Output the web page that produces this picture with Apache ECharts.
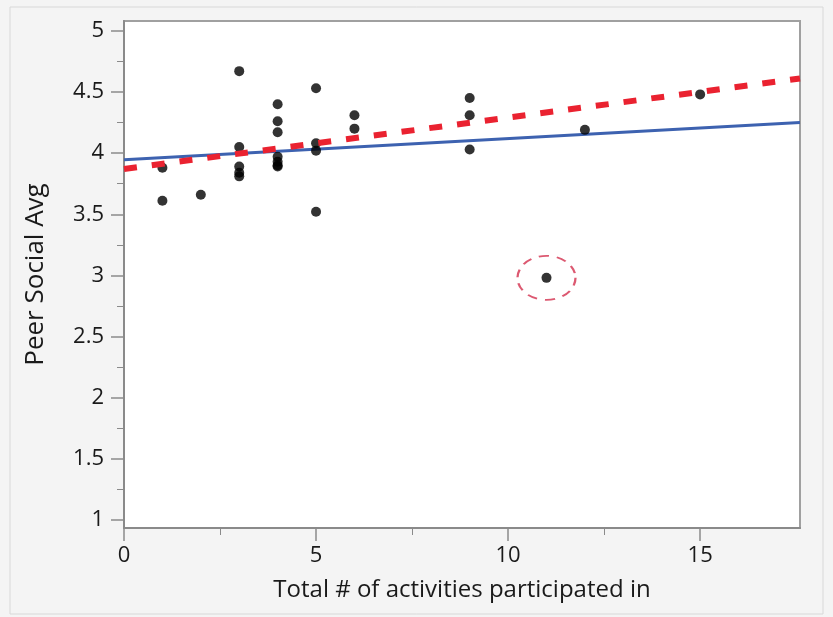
<!DOCTYPE html>
<html>
<head>
<meta charset="utf-8">
<script src="https://cdn.jsdelivr.net/npm/echarts@6/dist/echarts.min.js"></script>
<style>
html,body{margin:0;padding:0;background:#f4f4f4;}
#chart{width:833px;height:617px;}
</style>
</head>
<body>
<div id="chart"></div>
<script>
// Data
const activities = [1, 1, 2, 3, 3, 3, 3, 3, 4, 4, 4, 4, 4, 4, 4, 5, 5, 5, 5, 6, 6, 9, 9, 9, 12, 15];
const peerSocial = [3.61, 3.88, 3.66, 4.67, 4.05, 3.89, 3.84, 3.81, 4.40, 4.26, 4.17, 3.97, 3.93, 3.90, 3.89, 4.53, 4.08, 4.02, 3.52, 4.31, 4.20, 4.45, 4.31, 4.03, 4.19, 4.48];
const outlierX = [11];
const outlierY = [2.98];
const fitAllX = [0, 17.6];
const fitAllY = [3.945, 4.25];
const fitNoOutlierX = [0, 17.6];
const fitNoOutlierY = [3.87, 4.61];
const xTicks = [0, 5, 10, 15];
const xMinorTicks = [2.5, 7.5, 12.5];
const yTicks = [1, 1.5, 2, 2.5, 3, 3.5, 4, 4.5, 5];
const yMinorTicks = [1.25, 1.75, 2.25, 2.75, 3.25, 3.75, 4.25, 4.75];
const xTitle = 'Total # of activities participated in';
const yTitle = 'Peer Social Avg';

const zip = (a, b) => a.map((v, i) => [v, b[i]]);
const font = 'Open Sans';
const chart = echarts.init(document.getElementById('chart'), null, {renderer: 'canvas'});
const X_MIN = 0, X_MAX = 17.6, Y_MIN = 0.935, Y_MAX = 5.08;

chart.setOption({
  backgroundColor: '#f4f4f4',
  animation: false,
  graphic: [
    {type: 'rect', shape: {x: 10, y: 7, width: 813, height: 607}, style: {fill: 'none', stroke: '#d8d8d8', lineWidth: 1}, z: -1}
  ],
  grid: {left: 124, top: 21, right: 33, bottom: 89, show: true, backgroundColor: '#ffffff', borderColor: '#a0a0a0', borderWidth: 2},
  xAxis: [
    {
      type: 'value', min: X_MIN, max: X_MAX,
      name: xTitle, nameLocation: 'middle', nameGap: 50,
      nameTextStyle: {fontFamily: font, fontSize: 24, color: '#1a1a1a'},
      axisLine: {show: true, lineStyle: {color: '#8a8a8a', width: 2}},
      axisTick: {show: true, customValues: xTicks, length: 13, lineStyle: {color: '#8a8a8a', width: 1.5}},
      axisLabel: {show: true, customValues: xTicks, margin: 17, fontFamily: font, fontSize: 22, color: '#1a1a1a'},
      splitLine: {show: false}
    },
    {
      type: 'value', min: X_MIN, max: X_MAX, position: 'bottom',
      axisLine: {show: false},
      axisTick: {show: true, customValues: xMinorTicks, length: 7, lineStyle: {color: '#8a8a8a', width: 1}},
      axisLabel: {show: false}, splitLine: {show: false}
    }
  ],
  yAxis: [
    {
      type: 'value', min: Y_MIN, max: Y_MAX,
      name: yTitle, nameLocation: 'middle', nameGap: 75, nameRotate: 90,
      nameTextStyle: {fontFamily: font, fontSize: 26, color: '#1a1a1a'},
      axisLine: {show: true, lineStyle: {color: '#8a8a8a', width: 2}},
      axisTick: {show: true, customValues: yTicks, length: 13, lineStyle: {color: '#8a8a8a', width: 1.5}},
      axisLabel: {show: true, customValues: yTicks, margin: 20, fontFamily: font, fontSize: 22, color: '#1a1a1a'},
      splitLine: {show: false}
    },
    {
      type: 'value', min: Y_MIN, max: Y_MAX, position: 'left',
      axisLine: {show: false},
      axisTick: {show: true, customValues: yMinorTicks, length: 7, lineStyle: {color: '#8a8a8a', width: 1}},
      axisLabel: {show: false}, splitLine: {show: false}
    }
  ],
  series: [
    {
      type: 'line', data: zip(fitAllX, fitAllY), symbol: 'none', z: 2,
      lineStyle: {color: '#3d62b0', width: 3}
    },
    {
      type: 'scatter', data: zip(activities, peerSocial).concat(zip(outlierX, outlierY)),
      symbol: 'circle', symbolSize: 10, z: 3,
      itemStyle: {color: '#000000'}
    },
    {
      type: 'scatter', data: zip(outlierX, outlierY), symbol: 'circle', symbolSize: [58, 44], z: 3,
      itemStyle: {color: 'rgba(0,0,0,0)', borderColor: '#d3304d', borderWidth: 2, borderType: [9, 7]}
    },
    {
      type: 'line', data: zip(fitNoOutlierX, fitNoOutlierY), symbol: 'none', z: 4,
      lineStyle: {color: '#ea2230', width: 6, type: [13, 15]}
    }
  ]
});
</script>
</body>
</html>
